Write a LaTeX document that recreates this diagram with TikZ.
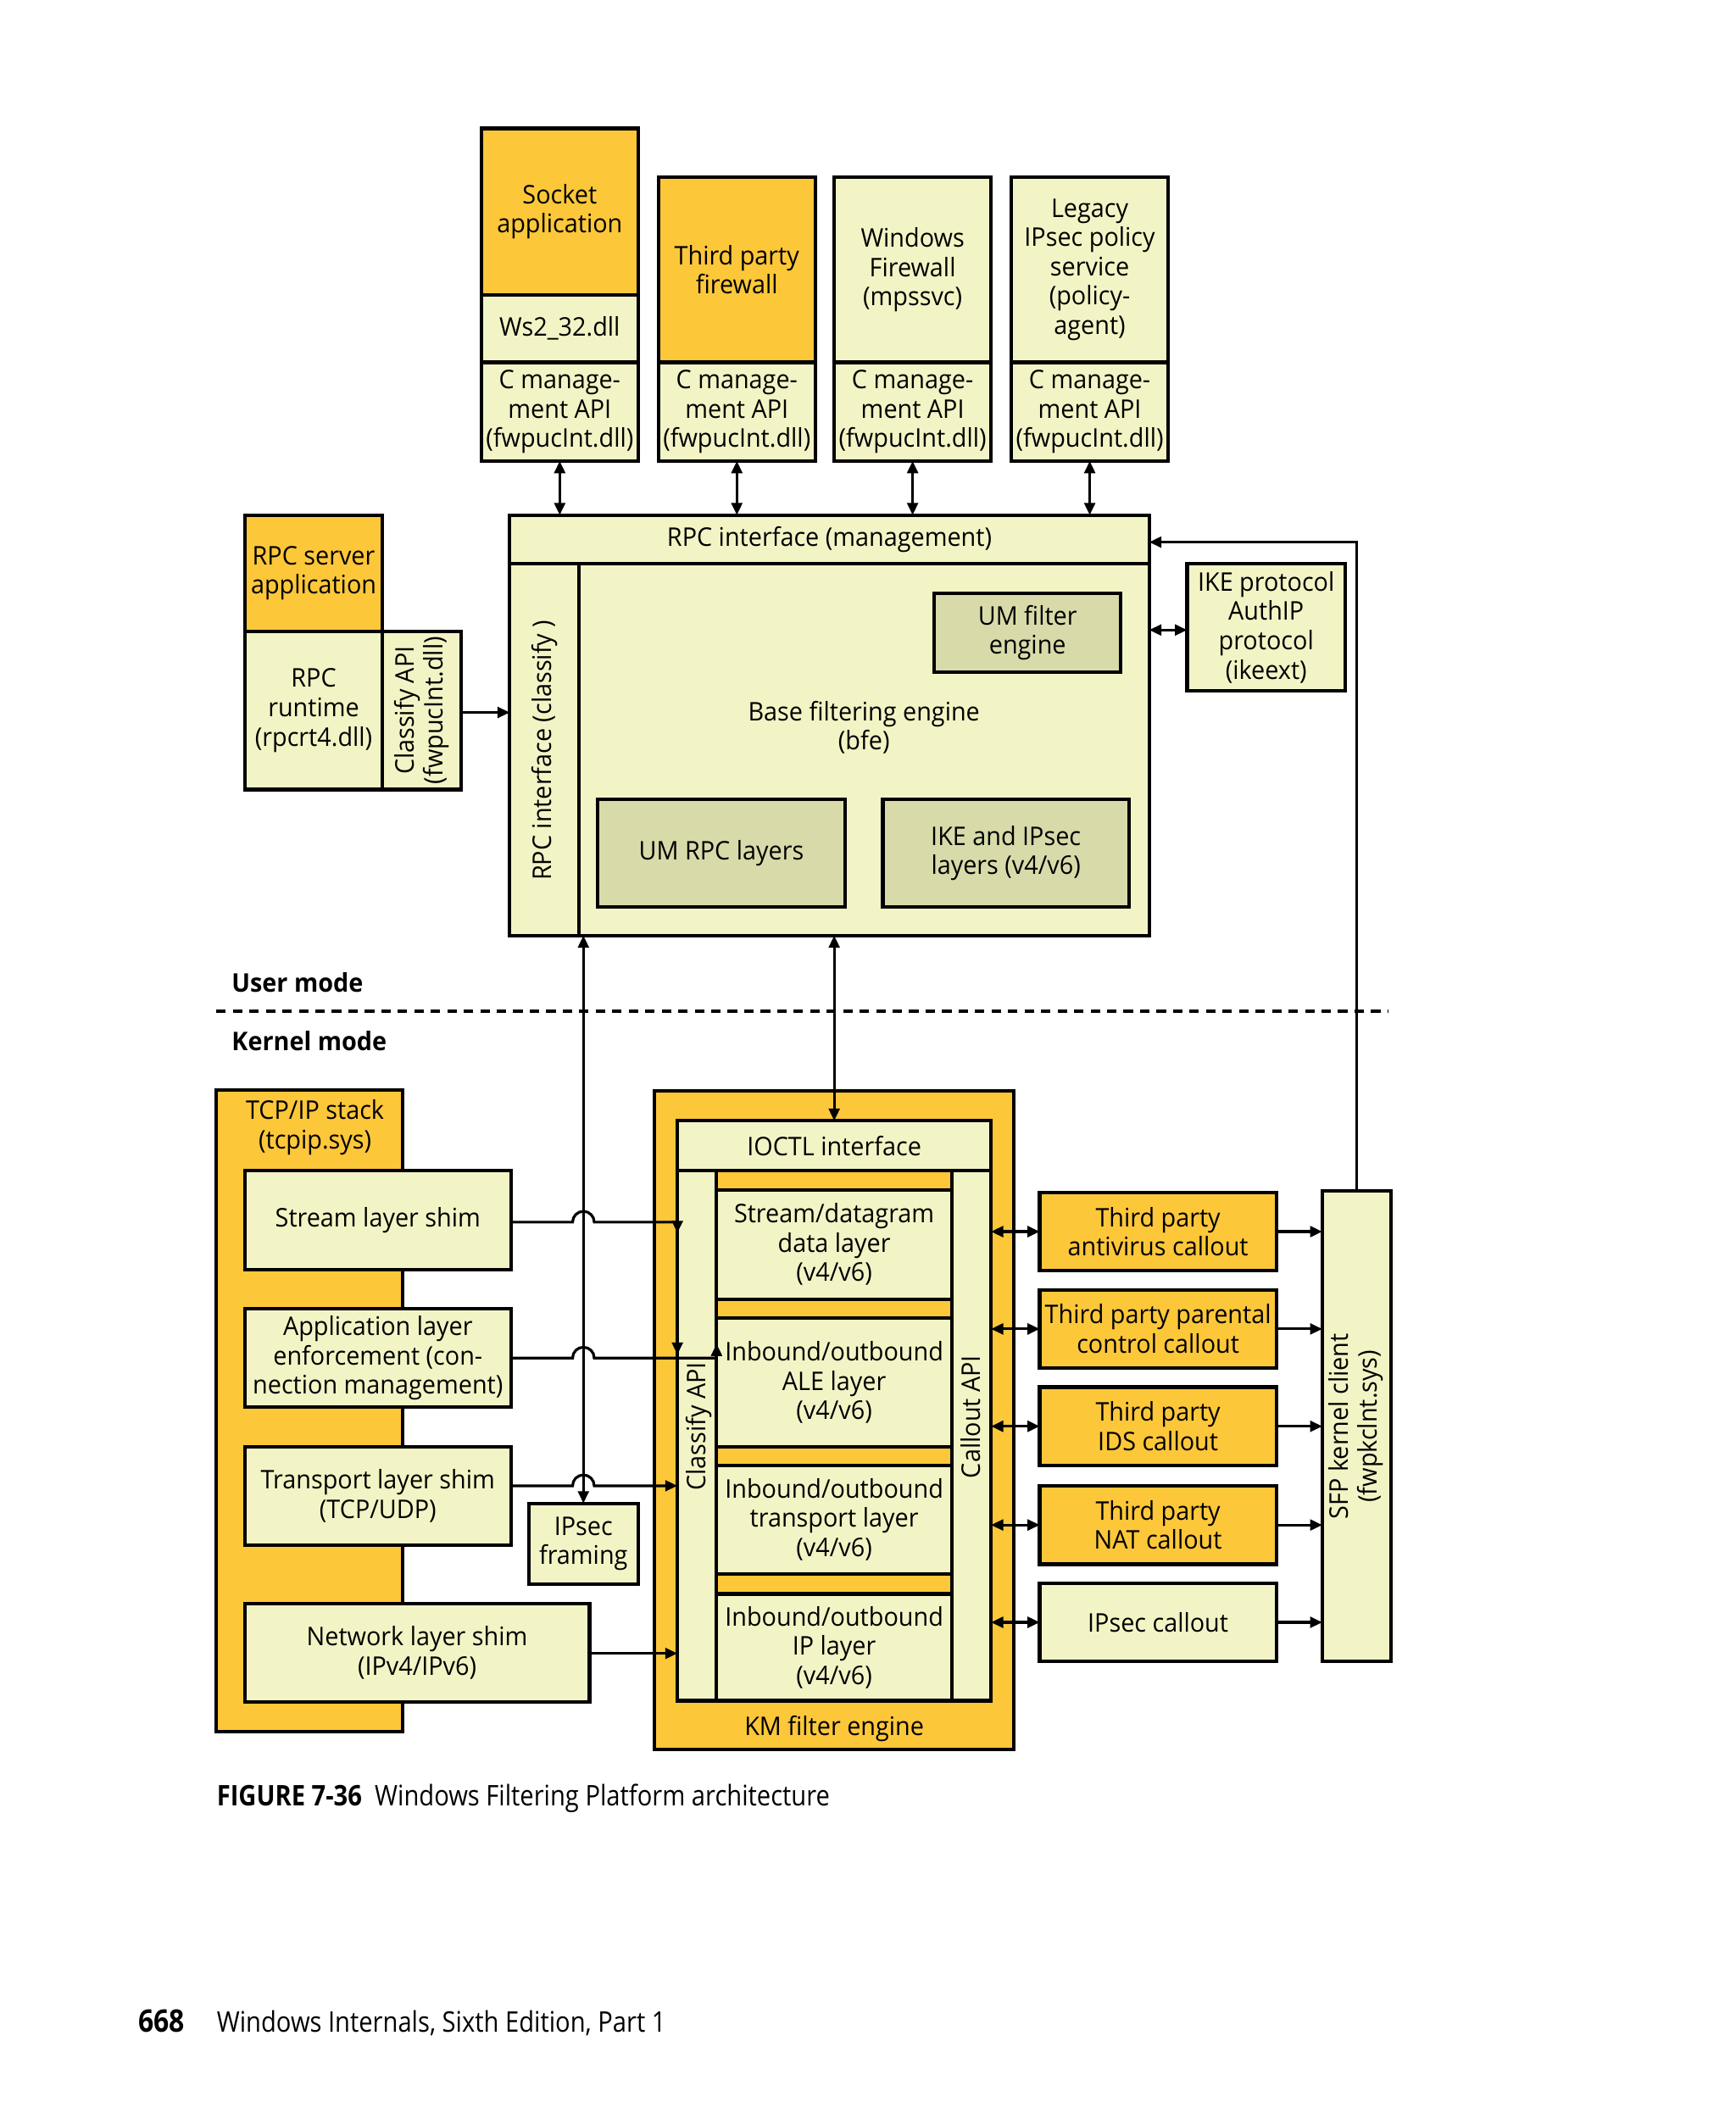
\documentclass[tikz,border=0pt]{standalone}
\usepackage{fontspec}
\setmainfont[FakeStretch=0.95]{Open Sans}
\newfontfamily\capfont[FakeStretch=0.87]{Open Sans}
\usetikzlibrary{arrows.meta}
\definecolor{org}{HTML}{FDC73A}
\definecolor{pale}{HTML}{F3F4C5}
\definecolor{dk}{HTML}{D8DBA9}
\newcommand\fs{\fontsize{9.5}{10.85}\selectfont}
% box from (x1,y1) to (x2,y2) in picture units
\newcommand\bx[7]{\node[#1, minimum width={(#4-#2)*0.5pt}, minimum height={(#5-#3)*0.5pt}] (#6) at ({(#2+#4)/2},{(#3+#5)/2}) {#7};}
\tikzset{
  box/.style={draw=black, line width=1.3pt, inner sep=0pt, outer sep=0pt, align=center, font=\fs},
  obox/.style={box, fill=org},
  pbox/.style={box, fill=pale},
  dbox/.style={box, fill=dk},
  txt/.style={inner sep=0pt, align=center, font=\fs},
  conn/.style={line width=1pt},
  arr/.style={conn, -{Triangle[length=4.5pt,width=4pt]}},
  dbl/.style={conn, {Triangle[length=4.5pt,width=4pt]}-{Triangle[length=4.5pt,width=4pt]}},
}
\begin{document}
\begin{tikzpicture}[x=0.5pt,y=-0.5pt]
\useasboundingbox[fill=white] (0,0) rectangle (1284,1567.4);

% ---------- top user-mode clients ----------
\bx{obox}{356}{95}{472}{218}{sockapp}{Socket\\application}
\bx{pbox}{356}{218}{472}{268}{ws2}{Ws2\_32.dll}
\bx{pbox}{356}{268}{472}{341}{c1}{C manage-\\ment API\\(fwpucInt.dll)}

\bx{obox}{487}{131}{603}{268}{tpfw}{Third party\\firewall}
\bx{pbox}{487}{268}{603}{341}{c2}{C manage-\\ment API\\(fwpucInt.dll)}

\bx{pbox}{617}{131}{733}{268}{winfw}{Windows\\Firewall\\(mpssvc)}
\bx{pbox}{617}{268}{733}{341}{c3}{C manage-\\ment API\\(fwpucInt.dll)}

\bx{pbox}{748}{131}{864}{268}{legacy}{Legacy\\IPsec policy\\service\\(policy-\\agent)}
\bx{pbox}{748}{268}{864}{341}{c4}{C manage-\\ment API\\(fwpucInt.dll)}

% ---------- RPC server ----------
\bx{obox}{181}{381}{283}{467}{rpcsrv}{RPC server\\application}
\bx{pbox}{181}{467}{283}{584}{rpcrt}{RPC\\runtime\\(rpcrt4.dll)}
\bx{pbox}{283}{467}{341}{584}{capi}{}
\node[txt,rotate=90] (capitxt) at (capi.center) {Classify API\\(fwpucInt.dll)};

% ---------- BFE ----------
\bx{pbox}{377}{381}{850}{692}{bfe}{}
\bx{pbox}{377}{381}{850}{417}{mgmt}{RPC interface (management)}
\bx{pbox}{377}{417}{428}{692}{rpccls}{}
\node[txt,rotate=90] (rpcclstxt) at (403,555) {RPC interface (classify )};
\node[txt] (bfetxt) at (639,538) {Base filtering engine\\(bfe)};
\bx{dbox}{691}{439}{829}{497}{umfe}{UM filter\\engine}
\bx{dbox}{442}{591}{625}{671}{umrpc}{UM RPC layers}
\bx{dbox}{653}{591}{835}{671}{ikel}{IKE and IPsec\\layers (v4/v6)}
\bx{pbox}{878}{417}{995}{511}{ike}{IKE protocol\\AuthIP\\protocol\\(ikeext)}

% top arrows
\foreach \c in {c1,c2,c3,c4}{
  \draw[dbl] (\c.south) -- (\c.south |- bfe.north);
}
\draw[arr] (capi.east |- 0,527) -- (bfe.west |- 0,527);
\draw[dbl] (ike.west |- 0,466) -- (bfe.east |- 0,466);

% ---------- mode separator ----------
\node[anchor=west,inner sep=0pt,font=\fs\bfseries] (umode) at (171,727) {User mode};
\node[anchor=west,inner sep=0pt,font=\fs\bfseries] (kmode) at (171,770) {Kernel mode};
\coordinate (dl) at (160,748);
\coordinate (dr) at (1027,748);
\draw[line width=1pt, dash pattern=on 3.5pt off 2.6pt] (dl) -- (dr);

% ---------- TCP/IP stack ----------
\bx{obox}{160}{806}{298}{1281}{tcp}{}
\node[txt] (tcptxt) at (233,834) {TCP/IP stack\\(tcpip.sys)};
\bx{pbox}{181}{866}{378}{939}{stream}{Stream layer shim}
\bx{pbox}{181}{968}{378}{1041}{app}{Application layer\\enforcement (con-\\nection management)}
\bx{pbox}{181}{1070}{378}{1143}{trans}{Transport layer shim\\(TCP/UDP)}
\bx{pbox}{391}{1112}{472}{1172}{ipsf}{IPsec\\framing}
\bx{pbox}{181}{1186}{436}{1259}{net}{Network layer shim\\(IPv4/IPv6)}

% ---------- KM filter engine ----------
\bx{obox}{484}{807}{750}{1294}{km}{}
\node[txt] (kmtxt) at (617,1279) {KM filter engine};
\bx{pbox}{501}{829}{733}{1258}{kmin}{}
\bx{pbox}{501}{829}{733}{866}{ioctl}{IOCTL interface}
\bx{pbox}{501}{866}{530}{1258}{clsapi}{}
\node[txt,rotate=90] (clsapitxt) at (517,1055) {Classify API};
\bx{pbox}{704}{866}{733}{1258}{callapi}{}
\node[txt,rotate=90] (callapitxt) at (718,1048) {Callout API};
\bx{obox}{530}{866}{704}{1258}{mid}{}
\bx{pbox}{530}{880}{704}{961}{l1}{Stream/datagram\\data layer\\(v4/v6)}
\bx{pbox}{530}{975}{704}{1070}{l2}{Inbound/outbound\\ALE layer\\(v4/v6)}
\bx{pbox}{530}{1084}{704}{1164}{l3}{Inbound/outbound\\transport layer\\(v4/v6)}
\bx{pbox}{530}{1179}{704}{1258}{l4}{Inbound/outbound\\IP layer\\(v4/v6)}

% ---------- callouts ----------
\bx{obox}{769}{882}{944}{940}{av}{Third party\\antivirus callout}
\bx{obox}{769}{954}{944}{1012}{par}{Third party parental\\control callout}
\bx{obox}{769}{1026}{944}{1084}{ids}{Third party\\IDS callout}
\bx{obox}{769}{1099}{944}{1157}{nat}{Third party\\NAT callout}
\bx{pbox}{769}{1171}{944}{1229}{ipc}{IPsec callout}
\bx{pbox}{978}{881}{1029}{1229}{sfp}{}
\node[txt,rotate=90] (sfptxt) at (1003,1055) {SFP kernel client\\(fwpkclnt.sys)};

\foreach \n in {av,par,ids,nat,ipc}{
  \draw[dbl] (kmin.east |- \n.west) -- (\n.west);
  \draw[arr] (\n.east) -- (sfp.west |- \n.east);
}

% SFP to RPC management
\coordinate (sfpturn) at (sfp.north |- 0,401);
\draw[arr] (sfp.north) -- (sfpturn) -- (bfe.east |- sfpturn);

% BFE <-> kernel
\draw[dbl] (ioctl.north |- bfe.south) -- (ioctl.north);
\draw[dbl] (ipsf.north |- bfe.south) -- (ipsf.north);

% shims to classify API with hops
\coordinate (hopL) at ([xshift=-4pt]ipsf.north);
\draw[conn] (stream.east |- 0,904) -- (hopL |- 0,904) arc[start angle=180,end angle=0,radius=4pt] -- (kmin.west |- 0,904);
\draw[arr] (kmin.west |- 0,903.5) -- (kmin.west |- 0,912);
\draw[conn] (app.east |- 0,1004.5) -- (hopL |- 0,1004.5) arc[start angle=180,end angle=0,radius=4pt] -- (clsapi.east |- 0,1004.5);
\draw[arr] (clsapi.east |- 0,1004) -- (clsapi.east |- 0,994);
\draw[arr] (kmin.west |- 0,990) -- (kmin.west |- 0,1002);
\draw[arr] (trans.east |- 0,1099) -- (hopL |- 0,1099) arc[start angle=180,end angle=0,radius=4pt] -- (kmin.west |- 0,1099);
\draw[arr] (net.east |- 0,1223) -- (kmin.west |- 0,1223);

% ---------- caption & footer ----------
\node[anchor=base west,inner sep=0pt,font=\capfont\fontsize{10.5}{12}\selectfont] (cap) at (160,1336) {\textbf{FIGURE 7-36}\ \ Windows Filtering Platform architecture};
\node[anchor=base west,inner sep=0pt,font=\capfont\fontsize{11.5}{13}\selectfont\bfseries] (pg) at (102,1503) {668};
\node[anchor=base west,inner sep=0pt,font=\capfont\fontsize{10.5}{12}\selectfont] (book) at (160,1503) {Windows Internals, Sixth Edition, Part 1};
\end{tikzpicture}
\end{document}
